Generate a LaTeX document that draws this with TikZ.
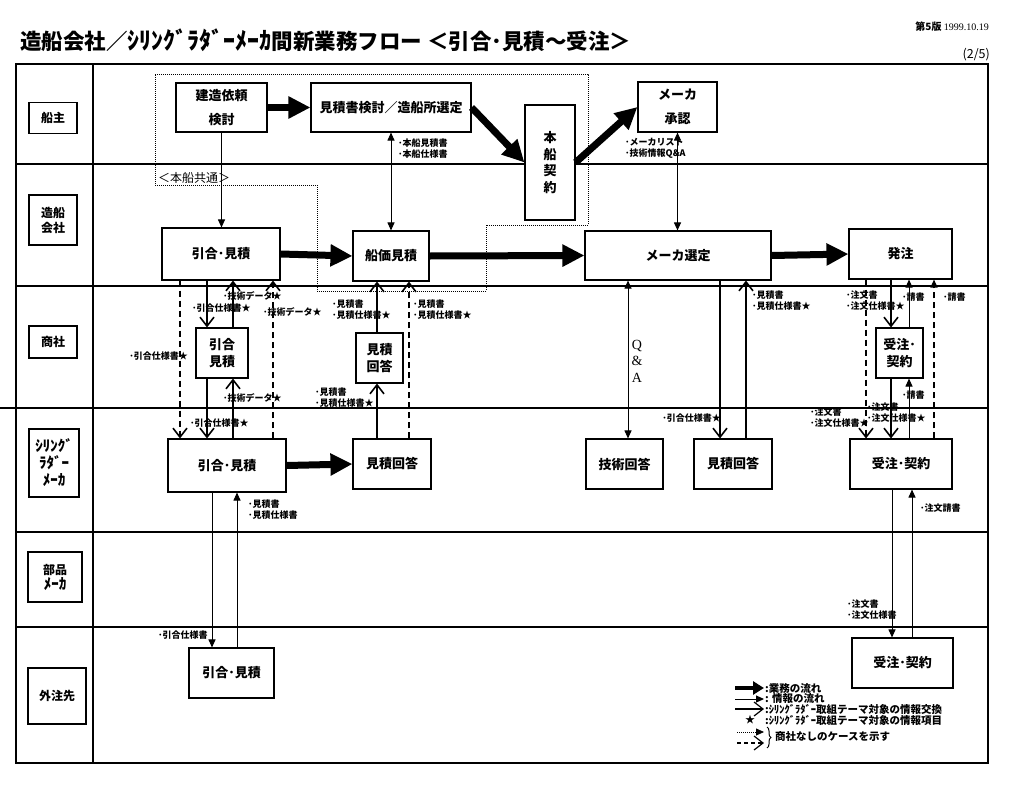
\documentclass[tikz,border=0pt]{standalone}
\usepackage{fontspec}
\setmainfont{Noto Sans CJK JP}
\newfontfamily\serifrm{Liberation Serif}
\usetikzlibrary{arrows.meta,decorations.pathreplacing}
\tikzset{
  box/.style={draw, fill=white, line width=1.1pt, inner sep=0pt, align=center, font=\bfseries\fontsize{13}{16.5}\selectfont},
  lanebox/.style={draw, fill=white, line width=1.1pt, inner sep=0pt, align=center, font=\bfseries\fontsize{12}{15}\selectfont},
  note/.style={font=\bfseries\fontsize{9}{11}\selectfont, inner sep=0pt, align=left},
  biz/.style={line width=7pt, -{Triangle[length=22pt,width=21pt]}},
  info/.style={line width=1pt, -{Triangle[length=8pt,width=7pt]}},
  infob/.style={line width=1pt, {Triangle[length=8pt,width=7pt]}-{Triangle[length=8pt,width=7pt]}},
  xch/.style={line width=1.6pt, -{Straight Barb[length=9pt,width=14pt]}},
  xchd/.style={xch, dash pattern=on 6pt off 4pt},
  infod/.style={info, line width=1.4pt, dash pattern=on 6pt off 4pt},
  lane/.style={line width=1.2pt},
  common/.style={line width=1pt, dash pattern=on 1pt off 1pt},
  legtxt/.style={font=\bfseries\fontsize{10.5}{11}\selectfont, inner sep=0pt, anchor=west}
}
\begin{document}
\begin{tikzpicture}[x=1pt,y=-1pt]
\useasboundingbox (0,0) rectangle (1011,784);
\fill[white] (0,0) rectangle (1011,784);

% title and header
\node[anchor=west, inner sep=0pt, font=\bfseries\fontsize{21.5}{25}\selectfont] (title) at (20,40) {造船会社／{\fontsize{24}{25}\selectfont ｼﾘﾝｸﾞﾗﾀﾞｰﾒｰｶ}間新業務フロー ＜引合･見積～受注＞};
\node[anchor=east, inner sep=0pt, font=\fontsize{10}{12}\selectfont] (ver) at (989,27) {\textbf{第5版} {\serifrm 1999.10.19}};
\node[anchor=east, inner sep=0pt, font=\fontsize{12.5}{14}\selectfont] (page) at (990,55) {(2/5)};

% frame and lanes
\draw[lane] (16,64) rectangle (988,763);
\draw[lane] (93,64) -- (93,763);
\foreach \yy in {164,286,532,627} {\draw[lane] (16,\yy) -- (988,\yy);}
\draw[lane] (0,408) -- (988,408);

% lane labels
\node[lanebox, minimum width=48, minimum height=31] (l1) at (53,118) {船主};
\node[lanebox, minimum width=48, minimum height=50] (l2) at (53,220) {造船\\会社};
\node[lanebox, minimum width=48, minimum height=32] (l3) at (53,342) {商社};
\node[lanebox, minimum width=50, minimum height=68, font=\bfseries\fontsize{15}{17}\selectfont] (l4) at (54,463) {ｼﾘﾝｸﾞ\\ﾗﾀﾞｰ\\ﾒｰｶ};
\node[lanebox, minimum width=54, minimum height=50] (l5) at (55,577) {部品\\{\fontsize{15}{15}\selectfont ﾒｰｶ}};
\node[lanebox, minimum width=58, minimum height=56] (l6) at (57,696) {外注先};

% common region (dotted)
\draw[common] (155,74) -- (588,74) -- (588,225) -- (486,225) -- (486,291) -- (317,291) -- (317,185) -- (155,185) -- cycle;
\node[anchor=west, inner sep=0pt, font=\fontsize{12}{14}\selectfont] (cmn) at (158,178) {＜本船共通＞};

% nodes: ship owner lane
\node[box, minimum width=91, minimum height=49, font=\bfseries\fontsize{13}{24}\selectfont] (n1) at (221.5,107.5) {建造依頼\\検討};
\node[box, minimum width=160, minimum height=49] (n2) at (391,107.5) {見積書検討／造船所選定};
\node[box, minimum width=50, minimum height=115] (n3) at (550,162.5) {本\\船\\契\\約};
\node[box, minimum width=79, minimum height=50, font=\bfseries\fontsize{13}{24}\selectfont] (n4) at (677.5,107) {メーカ\\承認};

% shipbuilder lane
\node[box, minimum width=118, minimum height=52] (z1) at (221,254) {引合･見積};
\node[box, minimum width=76, minimum height=50] (z2) at (391,256) {船価見積};
\node[box, minimum width=186, minimum height=49] (z3) at (678,255.5) {メーカ選定};
\node[box, minimum width=103, minimum height=50] (z4) at (900.5,254) {発注};

% trading company lane
\node[box, minimum width=52, minimum height=50] (s1) at (222,353) {引合\\見積};
\node[box, minimum width=47, minimum height=50] (s2) at (379.5,358) {見積\\回答};
\node[box, minimum width=47, minimum height=50] (s3) at (899.5,353) {受注･\\契約};

% shilling rudder maker lane
\node[box, minimum width=118, minimum height=53] (m1) at (227,465.5) {引合･見積};
\node[box, minimum width=78, minimum height=50] (m2) at (392,464) {見積回答};
\node[box, minimum width=77, minimum height=50] (m3) at (624.5,464) {技術回答};
\node[box, minimum width=78, minimum height=50] (m4) at (733,464) {見積回答};
\node[box, minimum width=102, minimum height=50] (m5) at (901,464) {受注･契約};

% subcontractor lane
\node[box, minimum width=85, minimum height=50] (g1) at (231.5,673) {引合･見積};
\node[box, minimum width=101, minimum height=50] (g2) at (902.5,663) {受注･契約};

% business flow (thick)
\draw[biz] (n1.east) -- (n2.west);
\draw[biz] (n2.east) -- (n3.west);
\draw[biz] (n3.east) -- (n4.west);
\draw[biz] (z1.east) -- (z2.west);
\draw[biz] (z2.east) -- (z3.west);
\draw[biz] (z3.east) -- (z4.west);
\draw[biz] (m1.east) -- (m2.west);

% information flow
\draw[info] (n1.south) -- (n1.south |- z1.north);
\draw[infob] (n2.south) -- (n2.south |- z2.north);
\node[note, anchor=west] (t0) at (398,149) {･本船見積書\\･本船仕様書};
\draw[infob] (n4.south) -- (n4.south |- z3.north);
\node[note, anchor=west] (t00) at (625,148) {･メーカリスト\\･技術情報Q\&A};

% left group
\draw[xchd] ([xshift=-41]z1.south) -- ([xshift=-47]m1.north);
\node[note, anchor=east] (t1) at (188,356) {･引合仕様書★};
\draw[xch] ([xshift=-14]z1.south) -- ([xshift=-15]s1.north);
\node[note, anchor=west] (t2) at (192,308) {･引合仕様書★};
\draw[xch] ([xshift=11]s1.north) -- ([xshift=12]z1.south);
\node[note, anchor=west] (t3) at (223,296) {･技術データ★};
\draw[xchd] ([xshift=46]m1.north) -- ([xshift=52]z1.south);
\node[note, anchor=west] (t4) at (263,312) {･技術データ★};
\draw[xch] ([xshift=-15]s1.south) -- ([xshift=-20]m1.north);
\node[note, anchor=west] (t5) at (190,423) {･引合仕様書★};
\draw[xch] ([xshift=6]m1.north) -- ([xshift=11]s1.south);
\node[note, anchor=west] (t6) at (223,398) {･技術データ★};

% middle group
\draw[xch] ([xshift=-2.5]s2.north) -- ([xshift=-14]z2.south);
\node[note, anchor=west] (t7) at (332,310) {･見積書\\･見積仕様書★};
\draw[xchd] ([xshift=17]m2.north) -- ([xshift=18]z2.south);
\node[note, anchor=west] (t8) at (413,310) {･見積書\\･見積仕様書★};
\draw[xch] ([xshift=-15]m2.north) -- ([xshift=-2.5]s2.south);
\node[note, anchor=west] (t9) at (315,398) {･見積書\\･見積仕様書★};

% outsourcing group
\draw[info] ([xshift=-15]m1.south) -- ([xshift=-19.5]g1.north);
\node[note, anchor=west] (t10) at (158,635) {･引合仕様書};
\draw[info] ([xshift=5.5]g1.north) -- ([xshift=10]m1.south);
\node[note, anchor=west] (t11) at (248,510) {･見積書\\･見積仕様書};

% maker selection group
\draw[infob] ([xshift=-50]z3.south) -- ([xshift=3.5]m3.north);
\node[inner sep=0pt, align=center, font=\serifrm\fontsize{14}{16.5}\selectfont] (qa) at (637,361) {Q\\\&\\A};
\draw[xch] ([xshift=42]z3.south) -- ([xshift=-13]m4.north);
\node[note, anchor=east] (t12) at (721,418) {･引合仕様書★};
\draw[xch] ([xshift=13]m4.north) -- ([xshift=68]z3.south);
\node[note, anchor=west] (t13) at (752,301) {･見積書\\･見積仕様書★};

% order group
\draw[xchd] ([xshift=-34.5]z4.south) -- ([xshift=-35]m5.north);
\node[note, anchor=west] (t14) at (810,418) {･注文書\\･注文仕様書★};
\draw[xch] ([xshift=-9.5]z4.south) -- ([xshift=-8.5]s3.north);
\node[note, anchor=west] (t15) at (846,301) {･注文書\\･注文仕様書★};
\draw[info] ([xshift=9.5]s3.north) -- ([xshift=8.5]z4.south);
\node[note, anchor=west] (t16) at (902,297) {･請書};
\draw[infod] ([xshift=33]m5.north) -- ([xshift=33.5]z4.south);
\node[note, anchor=west] (t17) at (943,297) {･請書};
\draw[xch] ([xshift=-8.5]s3.south) -- ([xshift=-10]m5.north);
\node[note, anchor=west] (t18) at (867,413) {･注文書\\･注文仕様書★};
\draw[info] ([xshift=8]m5.north) -- ([xshift=9.5]s3.south);
\node[note, anchor=west] (t19) at (902,395) {･請書};
\draw[info] ([xshift=-9]m5.south) -- ([xshift=-10.5]g2.north);
\node[note, anchor=west] (t20) at (847,610) {･注文書\\･注文仕様書};
\draw[info] ([xshift=9.5]g2.north) -- ([xshift=11]m5.south);
\node[note, anchor=west] (t21) at (920,508) {･注文請書};

% legend
\coordinate (a1) at (735,688); \coordinate (b1) at (764,688);
\coordinate (a2) at (735,699); \coordinate (b2) at (764,699);
\coordinate (a3) at (735,709); \coordinate (b3) at (764,709);
\coordinate (a5) at (737,732); \coordinate (b5) at (764,732);
\coordinate (a6) at (737,743); \coordinate (b6) at (764,743);
\draw[line width=4pt, -{Triangle[length=11pt,width=13pt]}] (a1) -- (b1);
\draw[info] (a2) -- (b2);
\draw[xch, line width=1.2pt] (a3) -- (b3);
\node[inner sep=0pt, font=\fontsize{10}{11}\selectfont] (star) at (750,720) {★};
\draw[info, line width=0.8pt, dash pattern=on 1pt off 1pt] (a5) -- (b5);
\draw[xchd, line width=1.2pt, dash pattern=on 4pt off 3pt] (a6) -- (b6);
\node[legtxt] (lg1) at (765,688) {:業務の流れ};
\node[legtxt] (lg2) at (765,699) {: 情報の流れ};
\node[legtxt] (lg3) at (765,709) {:ｼﾘﾝｸﾞﾗﾀﾞｰ取組テーマ対象の情報交換};
\node[legtxt] (lg4) at (765,720) {:ｼﾘﾝｸﾞﾗﾀﾞｰ取組テーマ対象の情報項目};
\coordinate (br1) at (767,727); \coordinate (br2) at (767,748);
\draw[decorate, decoration={brace, amplitude=4pt}, line width=1pt] (br1) -- (br2);
\node[legtxt] (lg5) at (775,737) {商社なしのケースを示す};
\end{tikzpicture}
\end{document}
